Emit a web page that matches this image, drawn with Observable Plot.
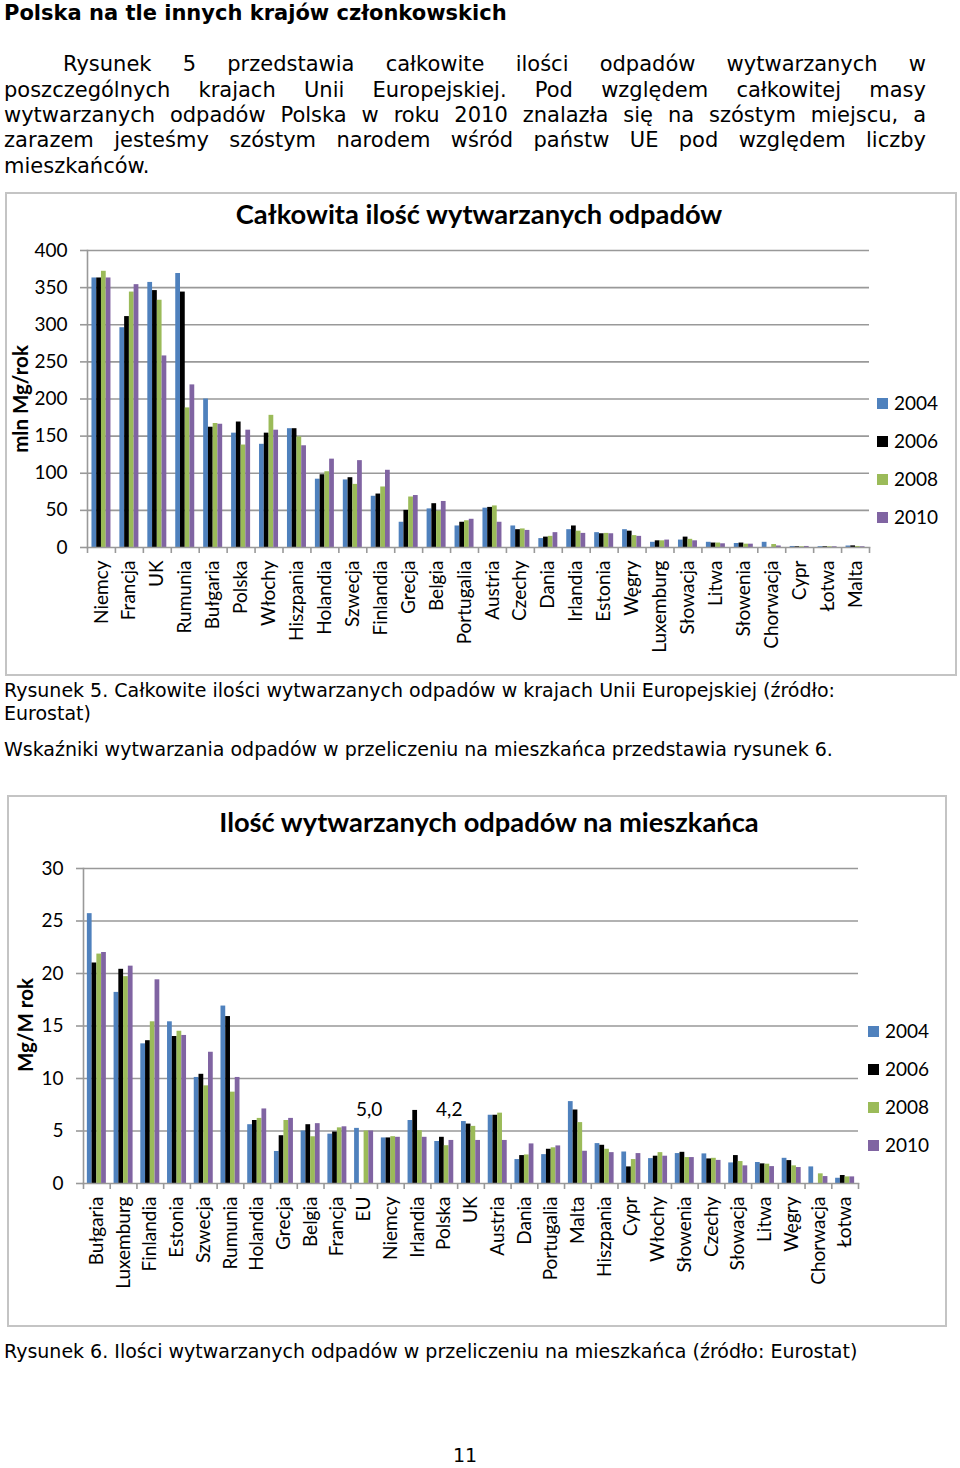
<!DOCTYPE html>
<html><head><meta charset="utf-8">
<script src="https://cdn.jsdelivr.net/npm/d3@7"></script>
<script src="https://cdn.jsdelivr.net/npm/@observablehq/plot@0.6"></script>
<style>
html,body{margin:0;padding:0;background:#fff;}
body{width:960px;height:1468px;position:relative;overflow:hidden;font-family:"DejaVu Sans",Verdana,sans-serif;color:#000;}
.abs{position:absolute;white-space:nowrap;}
.jl{position:absolute;left:4px;width:922px;text-align:justify;text-align-last:justify;font-size:21px;line-height:26px;white-space:normal;}
.frame{position:absolute;border:2px solid #c4c4c4;box-sizing:border-box;}
.ctitle{position:absolute;font-family:Lato,"Open Sans",sans-serif;font-weight:bold;font-size:27.3px;line-height:30px;white-space:nowrap;transform:translateX(-50%);}
.ylab{position:absolute;font-family:Lato,"Open Sans",sans-serif;font-weight:bold;font-size:20.5px;line-height:22px;white-space:nowrap;transform:translate(-50%,-50%) rotate(-90deg);}
.leg{position:absolute;font-family:Lato,"Open Sans",sans-serif;font-size:19px;line-height:22px;white-space:nowrap;display:flex;align-items:center;}
.leg span.sw{display:inline-block;width:11px;height:11px;margin-right:6px;}
.plot{position:absolute;}
</style>
</head><body>
<div class="abs" style="left:4px;top:0px;font-weight:bold;font-size:21px;line-height:26px;">Polska na tle innych krajów członkowskich</div>

<div class="jl" style="top:51px;text-indent:59px;">Rysunek 5 przedstawia całkowite ilości odpadów wytwarzanych w</div>
<div class="jl" style="top:77px;">poszczególnych krajach Unii Europejskiej. Pod względem całkowitej masy</div>
<div class="jl" style="top:102px;">wytwarzanych odpadów Polska w roku 2010 znalazła się na szóstym miejscu, a</div>
<div class="jl" style="top:127px;">zarazem jesteśmy szóstym narodem wśród państw UE pod względem liczby</div>
<div class="abs" style="left:4px;top:153px;font-size:21px;line-height:26px;">mieszkańców.</div>

<div class="frame" style="left:5px;top:192px;width:952px;height:484px;"></div>
<div class="ctitle" style="left:479px;top:199px;">Całkowita ilość wytwarzanych odpadów</div>
<div class="ylab" style="left:20px;top:399px;">mln Mg/rok</div>
<div id="chart1" class="plot" style="left:0px;top:240px;"></div>
<div id="legend1"></div>

<div class="abs" style="left:4px;top:679px;font-size:19px;line-height:23px;">Rysunek 5. Całkowite ilości wytwarzanych odpadów w krajach Unii Europejskiej (źródło:<br>Eurostat)</div>
<div class="abs" style="left:4px;top:738px;font-size:19px;line-height:23px;">Wskaźniki wytwarzania odpadów w przeliczeniu na mieszkańca przedstawia rysunek 6.</div>

<div class="frame" style="left:7px;top:795px;width:940px;height:532px;"></div>
<div class="ctitle" style="left:489px;top:807px;">Ilość wytwarzanych odpadów na mieszkańca</div>
<div class="ylab" style="left:25px;top:1025px;">Mg/M rok</div>
<div id="chart2" class="plot" style="left:0px;top:858px;"></div>
<div id="legend2"></div>

<div class="abs" style="left:4px;top:1340px;font-size:19px;line-height:23px;">Rysunek 6. Ilości wytwarzanych odpadów w przeliczeniu na mieszkańca (źródło: Eurostat)</div>
<div class="abs" style="left:453px;top:1444px;font-size:19px;line-height:23px;">11</div>

<script>
// ---------- Data ----------
const years = ["2004", "2006", "2008", "2010"];
const yearColors = ["#4F81BD", "#000000", "#9BBB59", "#8064A2"];

// Chart 1: total waste generated (mln Mg/rok)
const countries1 = ["Niemcy","Francja","UK","Rumunia","Bułgaria","Polska","Włochy","Hiszpania","Holandia","Szwecja","Finlandia","Grecja","Belgia","Portugalia","Austria","Czechy","Dania","Irlandia","Estonia","Węgry","Luxemburg","Słowacja","Litwa","Słowenia","Chorwacja","Cypr","Łotwa","Malta"];
const total2004 = [363,296,357,369,200,154,139,160,92,91,69,34,52,29,53,29,12,24,20,24,7,10,7,5.4,7,1.4,1.1,2];
const total2006 = [363,311,346,344,162,169,154,160,98,94,72,50,59,34,54,24,14,29,18.5,22,9,14,6,6,null,1,1,2.2];
const total2008 = [372,344,333,188,167,138,178,149,102,85,81.5,68,49,36,56,25,15,22,19,16,9,11,6,4.5,4,1,1,1.4];
const total2010 = [363,354,258,219,166,158,158,137,119,117,104,70,62,38,34,23,20,19,18.5,15,10,9,5,4.5,2,1.4,1,1];
const yTicks1 = [0,50,100,150,200,250,300,350,400];

// Chart 2: waste per inhabitant (Mg/M rok)
const countries2 = ["Bułgaria","Luxemburg","Finlandia","Estonia","Szwecja","Rumunia","Holandia","Grecja","Belgia","Francja","EU","Niemcy","Irlandia","Polska","UK","Austria","Dania","Portugalia","Malta","Hiszpania","Cypr","Włochy","Słowenia","Czechy","Słowacja","Litwa","Węgry","Chorwacja","Łotwa"];
const perCap2004 = [25.7,18.2,13.3,15.4,10.1,16.9,5.6,3.05,5.0,4.7,5.25,4.34,6.0,4.0,5.9,6.5,2.28,2.75,7.8,3.8,3.0,2.37,2.85,2.82,1.96,2.0,2.4,1.58,0.5];
const perCap2006 = [21.0,20.4,13.6,14.0,10.4,15.9,6.0,4.55,5.6,4.9,null,4.34,6.96,4.4,5.66,6.5,2.66,3.26,7.0,3.64,1.58,2.6,2.97,2.34,2.66,1.87,2.18,null,0.76];
const perCap2008 = [21.85,19.7,15.4,14.5,9.3,8.7,6.2,6.0,4.45,5.3,5.0,4.46,5.03,3.6,5.44,6.7,2.72,3.4,5.8,3.26,2.28,2.94,2.47,2.4,2.09,1.84,1.68,0.92,0.63];
const perCap2010 = [22.0,20.7,19.4,14.1,12.5,10.1,7.1,6.2,5.7,5.4,5.0,4.4,4.4,4.1,4.1,4.1,3.77,3.58,3.07,2.94,2.85,2.6,2.47,2.2,1.68,1.61,1.52,0.66,0.63];
const yTicks2 = [0,5,10,15,20,25,30];
const labelCountries2 = ["EU", "Polska"];
const labelTexts2 = ["5,0", "4,2"];

// ---------- Helpers ----------
const CF = "Lato, 'Open Sans', sans-serif";
const GRID = "#999";
const BAR_W = 4.75;

function groupedBars(countries, series, step) {
  const off = (step - BAR_W * series.length) / 2;
  return series.map((vals, i) =>
    Plot.barY(
      countries.map((c, j) => ({country: c, value: vals[j]})).filter(d => d.value != null),
      {x: "country", y: "value", fill: yearColors[i],
       insetLeft: off + i * BAR_W, insetRight: step - off - (i + 1) * BAR_W}
    )
  );
}

function makeChart({countries, series, yTicks, yMax, width, height, ml, mr, mt, mb, extra = []}) {
  const step = (width - ml - mr) / countries.length;
  return Plot.plot({
    width, height,
    marginLeft: ml, marginRight: mr, marginTop: mt, marginBottom: mb,
    style: {fontFamily: CF, color: "#000", background: "transparent", overflow: "visible"},
    x: {domain: countries, padding: 0, round: false, axis: null},
    y: {domain: [0, yMax], axis: null},
    marks: [
      Plot.gridY(yTicks.filter(t => t > 0), {stroke: GRID, strokeOpacity: 1, strokeWidth: 1.6}),
      ...groupedBars(countries, series, step),
      Plot.frame({anchor: "left", stroke: GRID, strokeWidth: 1.6}),
      Plot.frame({anchor: "bottom", stroke: GRID, strokeWidth: 1.6}),
      Plot.axisY({ticks: yTicks, tickSize: 7, tickPadding: 13, fontSize: 19, stroke: GRID, strokeWidth: 1.6, label: null}),
      Plot.axisX({tickSize: 6, tickFormat: () => "", dx: -step / 2, stroke: GRID, strokeWidth: 1.6, label: null}),
      Plot.axisX({ticks: [countries[countries.length - 1]], tickSize: 6, tickFormat: () => "", dx: step / 2, stroke: GRID, strokeWidth: 1.6, label: null}),
      Plot.axisX({tickSize: 0, tickPadding: 13, tickRotate: -90, fontSize: 19, label: null}),
      ...extra
    ]
  });
}

function legend(id, left, centers) {
  const el = document.getElementById(id);
  years.forEach((y, i) => {
    const d = document.createElement("div");
    d.className = "leg";
    d.style.left = left + "px";
    d.style.top = (centers[i] - 11) + "px";
    d.innerHTML = `<span class="sw" style="background:${yearColors[i]}"></span>${y}`;
    el.appendChild(d);
  });
}

// ---------- Chart 1 ----------
document.getElementById("chart1").appendChild(makeChart({
  countries: countries1,
  series: [total2004, total2006, total2008, total2010],
  yTicks: yTicks1, yMax: 400,
  width: 880, height: 440, ml: 87, mr: 11, mt: 10, mb: 133
}));
legend("legend1", 877, [403, 441, 479, 517]);

// ---------- Chart 2 ----------
const labels2 = labelCountries2.map((c, i) => ({country: c, text: labelTexts2[i]}));
document.getElementById("chart2").appendChild(makeChart({
  countries: countries2,
  series: [perCap2004, perCap2006, perCap2008, perCap2010],
  yTicks: yTicks2, yMax: 30,
  width: 870, height: 450, ml: 83, mr: 12, mt: 10, mb: 125,
  extra: [Plot.text(labels2, {x: "country", y: () => 7, text: "text", dx: 5, fontSize: 19, fill: "#000"})]
}));
legend("legend2", 868, [1031, 1069, 1107, 1145]);
</script>
</body></html>
